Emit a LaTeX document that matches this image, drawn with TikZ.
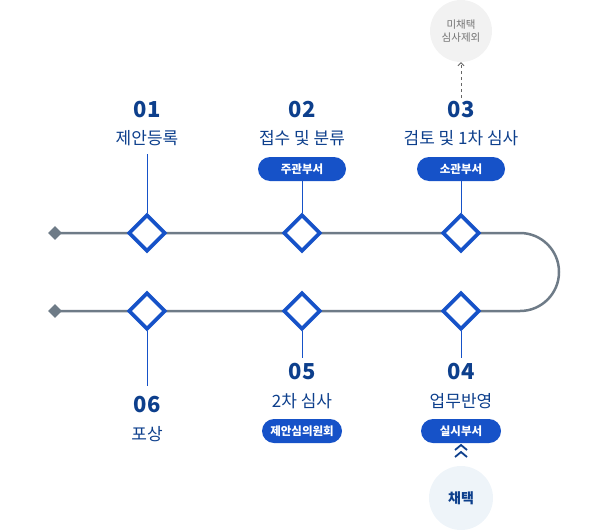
\documentclass[tikz,border=0pt]{standalone}
\usepackage{fontspec}
\setmainfont{Noto Sans CJK KR}
\usetikzlibrary{shapes.geometric,arrows.meta}
\definecolor{navy}{HTML}{0D3F8C}
\definecolor{pillc}{HTML}{1652C8}
\definecolor{lineg}{HTML}{6E7B87}
\definecolor{lightbg}{HTML}{EEF4F9}
\begin{document}
\begin{tikzpicture}[x=1pt,y=-1pt,
  dia/.style={diamond,draw=pillc,line width=3.8pt,fill=white,minimum size=37pt,inner sep=0},
  sdia/.style={diamond,fill=lineg,minimum size=14pt,inner sep=0},
  num/.style={text=navy,font=\fontsize{22}{22}\selectfont\bfseries},
  ttl/.style={text=navy,font=\fontsize{17}{17}\selectfont},
  pill/.style={fill=pillc,text=white,rounded corners=12pt,minimum width=88pt,minimum height=24pt,inner sep=0,font=\fontsize{11.5}{11.5}\selectfont\bfseries},
  vl/.style={draw=pillc,line width=1pt}]
\useasboundingbox (0,0) rectangle (610,530);
\coordinate (s1) at (55,233);
\coordinate (s2) at (55,311);
\draw[lineg,line width=2.5pt,rounded corners=39pt] (s1) -- (559,233) -- (559,311) -- (s2);
\node[sdia] (a) at (s1) {};
\node[sdia] (b) at (s2) {};
% top
\node[num] (n1) at (147,110) {01};
\node[ttl] (t1) at (147,138) {제안등록};
\node[num] (n2) at (302,110) {02};
\node[ttl] (t2) at (302,138) {접수 및 분류};
\node[pill] (p2) at (302,169) {주관부서};
\node[num] (n3) at (461,110) {03};
\node[ttl] (t3) at (461,138) {검토 및 1차 심사};
\node[pill] (p3) at (461,169) {소관부서};
\node[dia] (d1) at (147,233) {};
\node[dia] (d2) at (302,233) {};
\node[dia] (d3) at (461,233) {};
\draw[vl] (147,154) -- (d1.north);
\draw[vl] (p2.south) -- (d2.north);
\draw[vl] (p3.south) -- (d3.north);
% bottom
\node[dia] (d6) at (147,311) {};
\node[dia] (d5) at (302,311) {};
\node[dia] (d4) at (461,311) {};
\node[num] (n6) at (147,405) {06};
\node[ttl] (t6) at (147,434) {포상};
\node[num] (n5) at (302,372) {05};
\node[ttl] (t5) at (302,401) {2차 심사};
\node[pill,minimum width=80pt] (p5) at (302,431) {제안심의원회};
\node[num] (n4) at (461,372) {04};
\node[ttl] (t4) at (461,401) {업무반영};
\node[pill,minimum width=80pt] (p4) at (461,431) {실시부서};
\draw[vl] (d6.south) -- (147,386);
\draw[vl] (d5.south) -- (302,358);
\draw[vl] (d4.south) -- (461,358);
% circles
\node[circle,fill=black!5,minimum size=62pt,inner sep=0,align=center,text=black!55,font=\fontsize{10.5}{13.5}\selectfont] (c1) at (461,31) {미채택\\심사제외};
\draw[dashed,black!60,line width=0.8pt,-{Straight Barb[length=3pt,width=6pt]}] (n3.north) -- (c1.south);
\node[circle,fill=lightbg,minimum size=64pt,inner sep=0,text=navy,font=\fontsize{14}{14}\selectfont\bfseries] (c2) at (461,498) {채택};
\draw[navy,line width=1.8pt] (455,450) -- (461,445) -- (467,450);
\draw[navy,line width=1.8pt] (455,457) -- (461,452) -- (467,457);
\end{tikzpicture}
\end{document}
